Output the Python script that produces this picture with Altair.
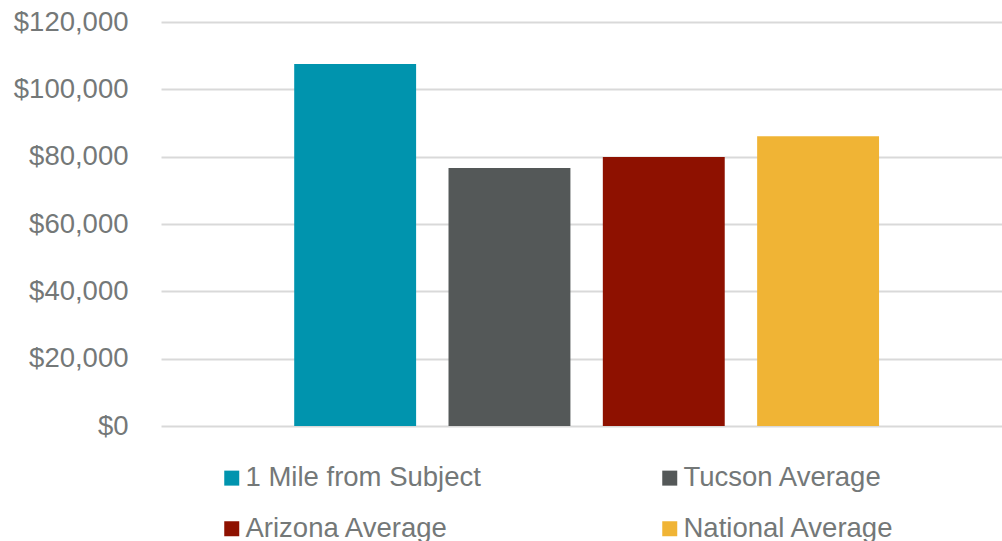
import altair as alt
import pandas as pd

categories = ["1 Mile from Subject", "Tucson Average", "Arizona Average", "National Average"]
values = [107500, 76600, 79900, 86100]
colors = ["#0094AE", "#545858", "#8E1100", "#F0B435"]
y_ticks = [0, 20000, 40000, 60000, 80000, 100000, 120000]

df = pd.DataFrame({"category": categories, "value": values})

TEXT = "#747878"
FONT = "Liberation Sans"

chart = alt.Chart(df).mark_bar().encode(
    x=alt.X("category:N", sort=categories, axis=None,
            scale=alt.Scale(paddingInner=0.21, paddingOuter=0.83, align=0.52)),
    y=alt.Y("value:Q", title=None,
            scale=alt.Scale(domain=[0, 120000], nice=False),
            axis=alt.Axis(values=y_ticks, format="$,.0f", domain=False, ticks=False,
                          tickSize=0, labelPadding=33, labelFontSize=27.5,
                          labelColor=TEXT, labelFont=FONT,
                          gridColor="#d9d9d9", gridWidth=2)),
    color=alt.Color("category:N", sort=categories, title=None,
                    scale=alt.Scale(domain=categories, range=colors),
                    legend=alt.Legend(orient="none", legendX=57, legendY=442,
                                      direction="horizontal",
                                      columns=2, columnPadding=175, rowPadding=22,
                                      symbolType="square", symbolSize=225,
                                      symbolStrokeWidth=0, labelOffset=0,
                                      labelFontSize=27.5, labelColor=TEXT,
                                      labelFont=FONT, labelLimit=400)),
).properties(
    width=841, height=404,
    autosize=alt.AutoSizeParams(type="none"),
    padding={"left": 161, "top": 22, "right": 0, "bottom": 140},
).configure_view(stroke=None)

chart.save("out.html", embed_options={"renderer": "svg", "actions": False})
